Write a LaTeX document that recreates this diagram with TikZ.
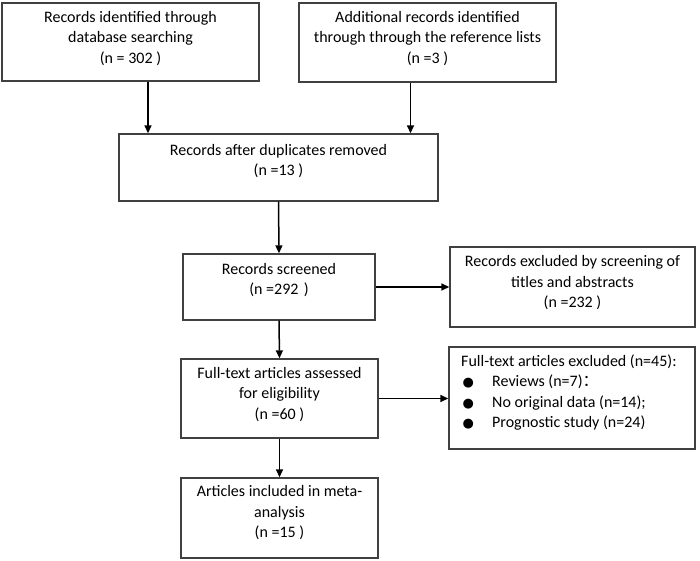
\documentclass[tikz,border=0pt]{standalone}
\usepackage{fontspec}
\setmainfont{Carlito}
\newfontfamily\symfont{DejaVu Sans}
\newfontfamily\cjkfont{Noto Sans CJK SC}
\usetikzlibrary{arrows.meta}
\newcommand{\blt}{\makebox[31pt][l]{\hspace{1.5pt}{\symfont\fontsize{13}{13}\selectfont ●}}}
\begin{document}
\begin{tikzpicture}[x=1pt,y=-1pt,
  box/.style={draw=black!75, line width=1.4pt, inner sep=0pt, fill=white},
  txt/.style={inner sep=0pt, align=center, font=\fontsize{16}{20.5}\selectfont},
  ltxt/.style={inner sep=0pt, align=left, anchor=west, font=\fontsize{16}{20.5}\selectfont},
  arr/.style={line width=1.5pt, -{Triangle[length=8pt,width=7pt]}}]
\useasboundingbox (0,0) rectangle (700,561);
% boxes
\node[box, minimum width=257, minimum height=78] (b1) at (130.5,42) {};
\node[box, minimum width=257, minimum height=79] (b2) at (427.5,42.5) {};
\node[box, minimum width=319, minimum height=67] (b3) at (278.5,167.5) {};
\node[box, minimum width=192, minimum height=66] (b4) at (279,287) {};
\node[box, minimum width=245, minimum height=80] (b5) at (572.5,287) {};
\node[box, minimum width=197, minimum height=79] (b6) at (279.5,398.5) {};
\node[box, minimum width=246, minimum height=102] (b7) at (572,398) {};
\node[box, minimum width=197, minimum height=80] (b8) at (279.5,518) {};
% texts
\node[txt] (t1) at (130.5,38.5) {Records identified through\\database searching\\(n = 302 )};
\node[txt] (t2) at (427.5,38.5) {Additional records identified\\through through the reference lists\\(n =3 )};
\node[txt] (t3) at (278.5,161) {Records after duplicates removed\\(n =13 )};
\node[txt] (t4) at (279,280) {Records screened\\(n =292\,\,)};
\node[txt] (t5) at (572.5,283) {Records excluded by screening of\\titles and abstracts\\(n =232 )};
\node[txt] (t6) at (279.5,394.5) {Full-text articles assessed\\for eligibility\\(n =60 )};
\node[ltxt] (t7) at (461,392.5) {Full-text articles excluded (n=45):\\
\blt Reviews (n=7){\cjkfont ：}\\
\blt No original data (n=14);\\
\blt Prognostic study (n=24)};
\node[txt] (t8) at (279.5,513) {Articles included in meta-\\analysis\\(n =15 )};
% connectors
\draw[arr] ([xshift=17.5pt]b1.south) -- ([xshift=17.5pt]b1.south |- b3.north);
\draw[arr] ([xshift=-17pt]b2.south) -- ([xshift=-17pt]b2.south |- b3.north);
\draw[arr] (b3.south) -- (b4.north);
\draw[arr] (b4.east) -- (b4.east -| b5.west);
\draw[arr] (b4.south) -- (b6.north);
\draw[arr] (b6.east) -- (b6.east -| b7.west);
\draw[arr] (b6.south) -- (b8.north);
\end{tikzpicture}
\end{document}
